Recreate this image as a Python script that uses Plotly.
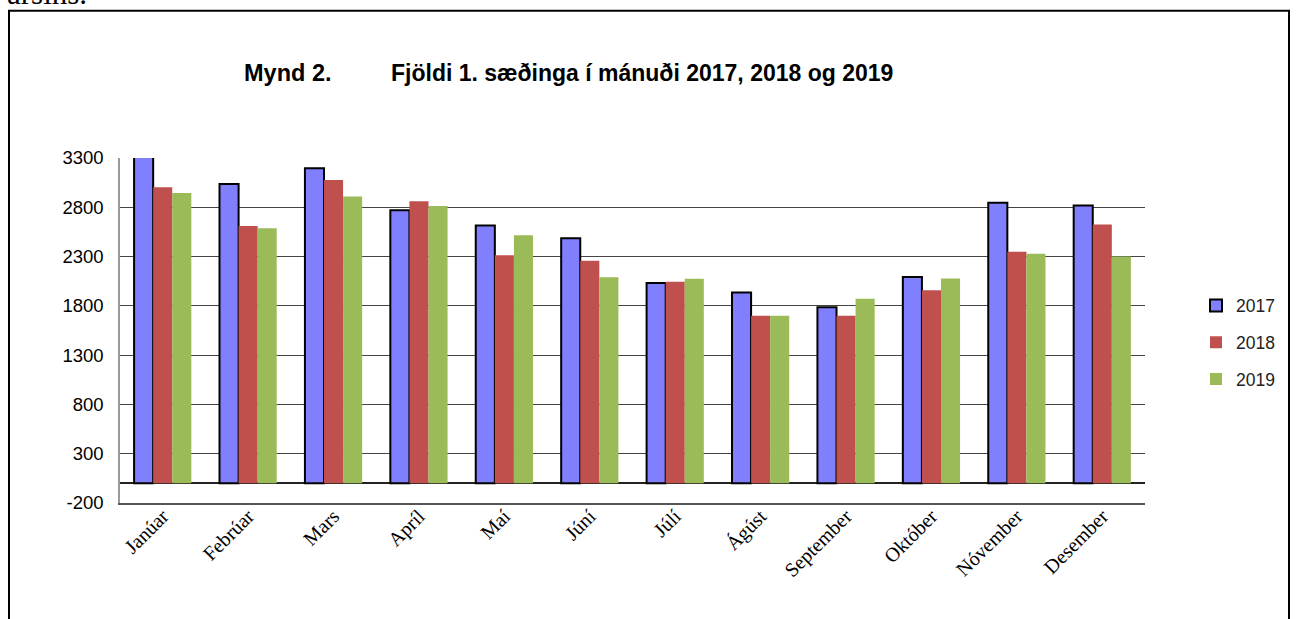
import plotly.graph_objects as go

months = ["Janúar", "Febrúar", "Mars", "Apríl", "Maí", "Júní", "Júlí",
          "Ágúst", "September", "Október", "Nóvember", "Desember"]
v2017 = [3350, 3037, 3196, 2770, 2615, 2486, 2033, 1935, 1786, 2094, 2845, 2817]
v2018 = [3003, 2611, 3078, 2861, 2313, 2257, 2044, 1699, 1699, 1959, 2348, 2625]
v2019 = [2946, 2587, 2909, 2814, 2516, 2090, 2074, 1699, 1871, 2077, 2328, 2300]
years = ["2017", "2018", "2019"]
tickvals = [-200, 300, 800, 1300, 1800, 2300, 2800, 3300]
ticktext = ["-200", "300", "800", "1300", "1800", "2300", "2800", "3300"]

W, H = 1296, 619
L, R, T, B = 120, 1145, 158.4, 503.5


def px(x):
    return (x - L) / (R - L)


def py(y):
    return (B - y) / (B - T)


SANS = "Arial, Liberation Sans, sans-serif"
SERIF = "Liberation Serif, Times New Roman, serif"

fig = go.Figure()
fig.add_trace(go.Bar(x=months, y=v2017, name=years[0], legendgroup="a",
                     marker=dict(color="#8080FF", line=dict(color="black", width=2))))
fig.add_trace(go.Bar(x=months, y=v2018, name=years[1], legendgroup="b",
                     marker=dict(color="#C0504D", line=dict(width=0))))
fig.add_trace(go.Bar(x=months, y=v2019, name=years[2], legendgroup="c",
                     marker=dict(color="#9BBB59", line=dict(width=0))))

fig.update_layout(
    width=W, height=H,
    margin=dict(l=L, r=W - R, t=T, b=H - B),
    paper_bgcolor="white", plot_bgcolor="white",
    barmode="group", bargap=0.33, bargroupgap=0,
    showlegend=True,
    legend=dict(x=px(1196), y=py(343), xanchor="left", yanchor="middle",
                font=dict(family=SANS, size=17.5, color="#222"),
                tracegroupgap=11, bgcolor="rgba(0,0,0,0)", itemwidth=30),
    font=dict(family=SANS, color="black"),
)

fig.update_yaxes(range=[-200, 3300], tickvals=tickvals, ticktext=ticktext,
                 showgrid=True, gridcolor="#444", gridwidth=1.3,
                 zeroline=True, zerolinecolor="#222", zerolinewidth=1.6,
                 showline=True, linecolor="#999", linewidth=1.5,
                 ticks="outside", ticklen=11, tickcolor="rgba(0,0,0,0)",
                 tickfont=dict(family=SANS, size=18.5, color="black"))
fig.update_xaxes(showline=True, linecolor="#555", linewidth=1.5, mirror=False,
                 tickangle=-45, ticks="", showgrid=False, ticklabelstandoff=-8,
                 tickfont=dict(family=SERIF, size=20, color="black"))

fig.add_annotation(text="<b>Mynd 2.</b>", xref="paper", yref="paper",
                   x=px(242), y=py(73), xanchor="left", yanchor="middle", showarrow=False,
                   font=dict(family=SANS, size=23.5, color="black"))
fig.add_annotation(text="<b>Fjöldi 1. sæðinga í mánuði 2017, 2018 og 2019</b>", xref="paper", yref="paper",
                   x=px(389), y=py(73), xanchor="left", yanchor="middle", showarrow=False,
                   font=dict(family=SANS, size=23, color="black"))
fig.add_annotation(text="ársins.", xref="paper", yref="paper",
                   x=px(5), y=py(13), xanchor="left", yanchor="bottom", showarrow=False,
                   font=dict(family=SERIF, size=31, color="black"))

fig.add_shape(type="rect", xref="paper", yref="paper",
              x0=px(9), x1=px(1289), y0=py(640), y1=py(11),
              line=dict(color="black", width=2), fillcolor="rgba(0,0,0,0)", layer="above")

fig.write_html("out.html", config={"displayModeBar": False},
               post_script="document.body.style.margin='0';")
